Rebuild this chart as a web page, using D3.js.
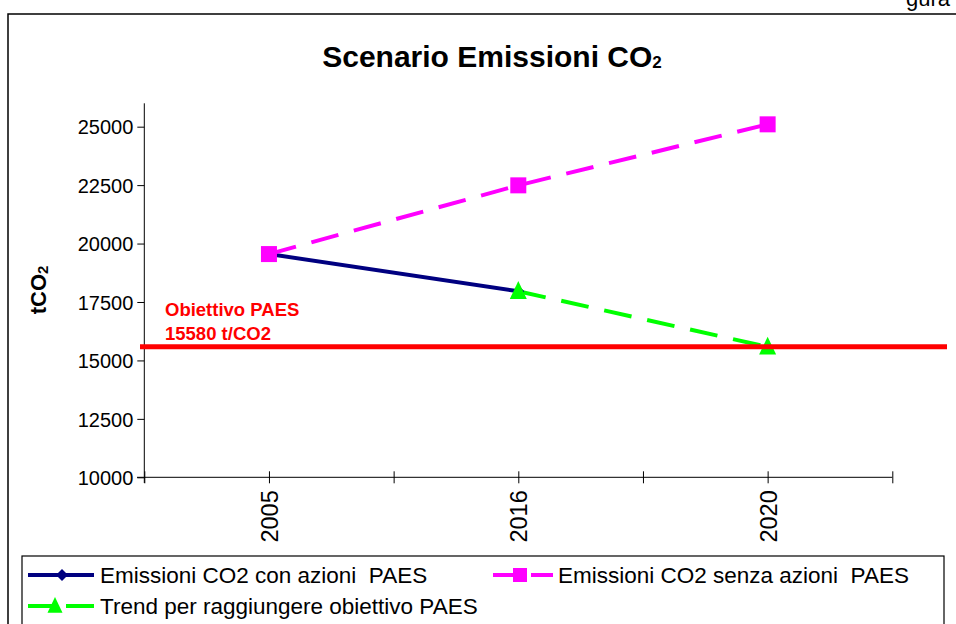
<!DOCTYPE html>
<html><head><meta charset="utf-8">
<script src="https://cdn.jsdelivr.net/npm/d3@7"></script>
<style>body{margin:0;background:#fff}svg{display:block;font-family:"Liberation Sans",Arial,sans-serif}text{white-space:pre}</style>
</head><body>
<svg id="c" width="956" height="624"></svg>
<script>
// categories (slots on the x axis; blanks are empty slots)
const categories = ["", "2005", "", "2016", "", "2020", ""];
const yTicks = [10000, 12500, 15000, 17500, 20000, 22500, 25000];
const conAzioni = [null, 19550, null, 17960, null, null, null];
const senzaAzioni = [null, 19550, null, 22490, null, 25100, null];
const trend = [null, null, null, 17960, null, 15580, null];
const obiettivo = 15580;
const seriesNames = ["Emissioni CO2 con azioni  PAES", "Emissioni CO2 senza azioni  PAES", "Trend per raggiungere obiettivo PAES"];

const svg = d3.select("#c");
const x = d3.scalePoint().domain(d3.range(categories.length)).range([144.3, 892.3]);
const y = d3.scaleLinear().domain([10000, 26000]).range([477.3, 103.3]);

// outer frame
svg.append("rect").attr("x", 8).attr("y", 14).attr("width", 1000).attr("height", 700)
  .attr("fill", "none").attr("stroke", "#000").attr("stroke-width", 1.5);
// clipped text at the very top right (cut off in the reference too)
svg.append("text").attr("x", 950).attr("y", 6).attr("text-anchor", "end")
  .attr("font-size", 22).text("gura");

// title
const t = svg.append("text").attr("x", 492).attr("y", 67).attr("text-anchor", "middle")
  .attr("font-size", 30).attr("font-weight", "bold");
t.append("tspan").text("Scenario Emissioni CO");
t.append("tspan").attr("font-size", 17).attr("dy", 1).text("2");

// y axis
const ya = svg.append("g").attr("transform", "translate(144.3,0)")
  .call(d3.axisLeft(y).tickValues(yTicks).tickSize(7).tickSizeOuter(0).tickFormat(d3.format("d")));
ya.select(".domain").attr("d", "M0,103.3V483");
ya.selectAll("text").attr("font-size", 20).attr("font-family", "Liberation Sans, Arial").attr("fill", "#000").attr("x", -11).attr("dy", "0.36em");
ya.selectAll("line,path").attr("stroke", "#000");

// x axis
const xa = svg.append("g").attr("transform", "translate(0,477.3)")
  .call(d3.axisBottom(x).tickSize(0).tickFormat(i => categories[i]));
xa.select(".domain").attr("d", "M137,0H892.3");
xa.selectAll(".tick line").attr("y1", -6).attr("y2", 6).attr("stroke", "#000");
xa.selectAll("text").attr("font-size", 23.5).attr("font-family", "Liberation Sans, Arial").attr("fill", "#000")
  .attr("transform", "rotate(-90)").attr("text-anchor", "end").attr("x", -13).attr("y", 0).attr("dy", "0.36em");
xa.select(".domain").attr("stroke", "#000");

// y label
const yl = svg.append("text").attr("transform", "translate(46,290) rotate(-90)")
  .attr("text-anchor", "middle").attr("font-size", 22).attr("font-weight", "bold");
yl.append("tspan").text("tCO");
yl.append("tspan").attr("font-size", 15).attr("dy", 2).text("2");

const line = d3.line().x(d => x(d.i)).y(d => y(d.v));
const pts = arr => arr.map((v, i) => ({i, v})).filter(d => d.v != null);

function diamond(g, cx, cy, s) {
  g.append("path").attr("d", `M${cx},${cy - s}L${cx + s},${cy}L${cx},${cy + s}L${cx - s},${cy}Z`).attr("fill", "#000080");
}
function square(g, cx, cy, s) {
  g.append("rect").attr("x", cx - s / 2).attr("y", cy - s / 2).attr("width", s).attr("height", s).attr("fill", "#ff00ff");
}
function tri(g, cx, cy, s) {
  g.append("path").attr("d", `M${cx},${cy - s * 0.6}L${cx + s / 2},${cy + s * 0.45}L${cx - s / 2},${cy + s * 0.45}Z`).attr("fill", "#00ff00");
}

const plot = svg.append("g");
plot.append("path").attr("d", line(pts(conAzioni))).attr("fill", "none").attr("stroke", "#000080").attr("stroke-width", 4);
plot.append("path").attr("d", line(pts(senzaAzioni))).attr("fill", "none").attr("stroke", "#ff00ff").attr("stroke-width", 4).attr("stroke-dasharray", "28,16");
plot.append("path").attr("d", line(pts(trend))).attr("fill", "none").attr("stroke", "#00ff00").attr("stroke-width", 4).attr("stroke-dasharray", "28,16");
pts(conAzioni).forEach(d => diamond(plot, x(d.i), y(d.v), 6));
pts(senzaAzioni).forEach(d => square(plot, x(d.i), y(d.v), 16));
pts(trend).forEach(d => tri(plot, x(d.i), y(d.v), 17));

// target line
svg.append("line").attr("x1", 140).attr("x2", 947).attr("y1", y(obiettivo)).attr("y2", y(obiettivo))
  .attr("stroke", "#ff0000").attr("stroke-width", 5);
const ot = svg.append("text").attr("font-size", 18.5).attr("font-weight", "bold").attr("fill", "#ff0000");
ot.append("tspan").attr("x", 165).attr("y", 316).text("Obiettivo PAES");
ot.append("tspan").attr("x", 165).attr("y", 340).text(obiettivo + " t/CO2");

// legend
svg.append("rect").attr("x", 22).attr("y", 556).attr("width", 922).attr("height", 100)
  .attr("fill", "#fff").attr("stroke", "#000").attr("stroke-width", 1.2);
const lg = svg.append("g").attr("font-size", 22.5);
const items = [
  {x: 28, y: 575, len: 66, tx: 100, color: "#000080", dash: null, m: diamond, name: seriesNames[0]},
  {x: 493, y: 575, len: 60, tx: 558, color: "#ff00ff", dash: "28,10", m: square, name: seriesNames[1]},
  {x: 28, y: 606, len: 66, tx: 100, color: "#00ff00", dash: "28,10", m: tri, name: seriesNames[2]}
];
items.forEach(it => {
  lg.append("line").attr("x1", it.x).attr("x2", it.x + it.len).attr("y1", it.y).attr("y2", it.y)
    .attr("stroke", it.color).attr("stroke-width", 4).attr("stroke-dasharray", it.dash);
  if (it.m === diamond) it.m(lg, it.x + 34, it.y, 6);
  else if (it.m === square) it.m(lg, it.x + 27, it.y, 14);
  else it.m(lg, it.x + 27, it.y, 15);
  lg.append("text").attr("x", it.tx).attr("y", it.y).attr("dy", "0.36em").text(it.name);
});
</script>
</body></html>
